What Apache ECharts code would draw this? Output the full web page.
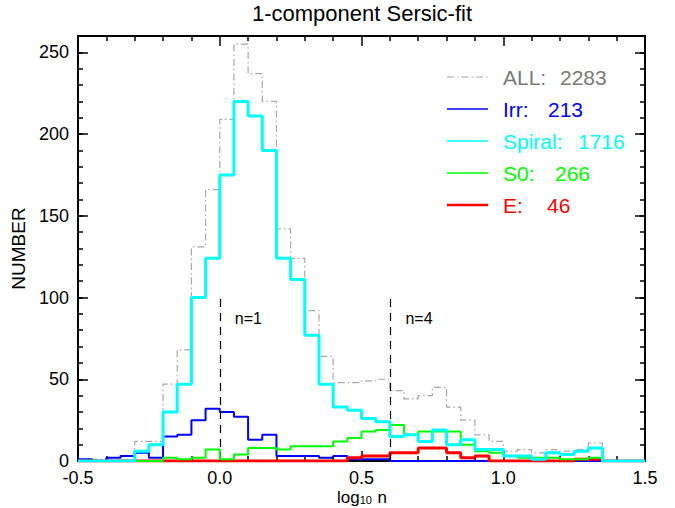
<!DOCTYPE html>
<html>
<head>
<meta charset="utf-8">
<script src="https://cdn.jsdelivr.net/npm/echarts@6/dist/echarts.min.js"></script>
<style>
  html, body { margin: 0; padding: 0; background: #fff; }
  #chart { width: 675px; height: 508px; }
</style>
</head>
<body>
<div id="chart"></div>
<script>
// Histogram bins of log10(n): 40 bins of width 0.05 starting at -0.5
const binStart = -0.5;
const binWidth = 0.05;

// Counts per bin for each morphological class
const allCounts    = [0,1,2,3,12,12,47,68,131,166, 209,255,237,220,142,124,92,64,48,48, 49,50,43,38,40,45,33,25,16,12, 6,7,5,7,6,7,11,0,0,0];
const irrCounts    = [1,0,2,3,5,2,15,16,25,32, 30,27,13,16,3,3,3,2,3,1, 1,1,0,0,0,0,0,0,0,0, 0,0,0,0,0,0,0,0,0,0];
const spiralCounts = [0,0,0,0,6,10,30,47,100,124, 175,220,211,190,124,111,77,47,33,31, 26,24,15,16,12,19,10,13,7,7, 3,3,1,5,4,6,8,0,0,0];
const s0Counts     = [0,0,0,0,0,0,2,1,2,7, 1,4,8,8,7,9,9,9,12,14, 18,19,22,16,18,18,18,10,6,5, 3,2,2,2,1,1,2,0,0,0];
const eCounts      = [0,0,0,0,0,0,0,0,0,0, 0,0,0,0,0,0,0,0,0,2, 3,3,5,5,8,8,5,2,3,0, 0,0,0,0,0,1,1,0,0,0];

// Legend names and class totals
const classNames  = ['ALL:', 'Irr:', 'Spiral:', 'S0:', 'E:'];
const classTotals = ['2283', '213', '1716', '266', '46'];

// Reference Sersic indices (log10 n) marked with dashed lines
const refLabels = ['n=1', 'n=4'];
const refX = [0.0, 0.602];
const refTop = 100;

// Axis ticks
const xTicks = { min: -0.5, max: 1.5, major: 0.5 };
const yTicks = { min: 0, max: 260, major: 50, minor: 10 };

const FONT = 'Liberation Sans, Arial, Helvetica, sans-serif';

function toSteps(counts) {
  const pts = counts.map((c, i) => [+(binStart + i * binWidth).toFixed(3), c]);
  pts.push([+(binStart + counts.length * binWidth).toFixed(3), counts[counts.length - 1]]);
  return pts;
}

const chart = echarts.init(document.getElementById('chart'), null, { renderer: 'svg' });

const axisLine = { show: true, onZero: false, lineStyle: { color: '#000', width: 2 } };

function xAxisDef(pos, labels) {
  return {
    type: 'value', position: pos, min: xTicks.min, max: xTicks.max, interval: xTicks.major,
    axisLine: axisLine,
    axisTick: { show: true, inside: true, length: 10, lineStyle: { color: '#000', width: 1.5 } },
    minorTick: { show: true, splitNumber: 5, length: 5, lineStyle: { color: '#000', width: 1.5 } },
    splitLine: { show: false },
    axisLabel: { show: labels, fontSize: 18, fontFamily: FONT, color: '#000', margin: 8,
                 formatter: v => v.toFixed(1) }
  };
}

function yAxisDef(pos, step, tickLen, labels, name) {
  return {
    type: 'value', position: pos, min: yTicks.min, max: yTicks.max, interval: step,
    axisLine: axisLine,
    axisTick: { show: true, inside: true, length: tickLen, lineStyle: { color: '#000', width: 1.5 } },
    splitLine: { show: false },
    axisLabel: { show: labels, showMaxLabel: false, fontSize: 18, fontFamily: FONT, color: '#000', margin: 9 },
    name: name || '',
    nameLocation: 'middle', nameGap: 42, nameRotate: 90,
    nameTextStyle: { fontSize: 19, fontFamily: FONT, color: '#000' }
  };
}

const seriesDefs = [
  { name: 'ALL',    data: allCounts,    color: '#a8a8a8', width: 1.2, type: [7, 3, 1.5, 3] },
  { name: 'Irr',    data: irrCounts,    color: '#0000ff', width: 2,   type: 'solid' },
  { name: 'E',      data: eCounts,      color: '#ff0000', width: 3,   type: 'solid' },
  { name: 'S0',     data: s0Counts,     color: '#00ff00', width: 2,   type: 'solid' },
  { name: 'Spiral', data: spiralCounts, color: '#00ffff', width: 3,   type: 'solid' }
];

const series = seriesDefs.map((s, i) => {
  const out = {
    name: s.name, type: 'line', step: 'end', showSymbol: false, symbol: 'none',
    xAxisIndex: 0, yAxisIndex: 0,
    data: toSteps(s.data),
    lineStyle: { color: s.color, width: s.width, type: s.type },
    itemStyle: { color: s.color },
    z: 2 + i
  };
  if (i === 0) {
    out.markLine = {
      silent: true, symbol: 'none', animation: false,
      label: { show: false },
      lineStyle: { color: '#000', width: 1.2, type: [8, 6] },
      data: refX.map(x => [{ coord: [x, 0] }, { coord: [x, refTop] }])
    };
  }
  return out;
});

const legendColors = ['#a8a8a8', '#0000ff', '#00ffff', '#00ff00', '#ff0000'];
const legendText   = ['#7a7a7a', '#0000ff', '#00ffff', '#00ff00', '#ff0000'];
const legendDash   = [[7, 3, 1.5, 3], null, null, null, null];
const legendWidth  = [1.2, 1.5, 1.5, 1.5, 2.5];
const legendNumX   = [560, 548, 578, 555, 547];

const graphic = [
  {
    type: 'text', x: 362, y: 13,
    style: { text: '1-component Sersic-fit', fill: '#000', font: '22px ' + FONT,
             textAlign: 'center', align: 'center', textVerticalAlign: 'middle', verticalAlign: 'middle' }
  },
  {
    // x-axis title with a subscript base
    type: 'text', x: 362, y: 497,
    style: {
      text: '{a|log}{b|10}{a| n}', align: 'center', verticalAlign: 'middle',
      rich: {
        a: { fontSize: 17, fontFamily: FONT, fill: '#000', color: '#000', lineHeight: 17, verticalAlign: 'middle' },
        b: { fontSize: 11, fontFamily: FONT, fill: '#000', color: '#000', verticalAlign: 'bottom', padding: [5, 1, 0, 0] }
      }
    }
  }
];
classNames.forEach((n, i) => {
  const y = 77 + i * 32;
  graphic.push({
    type: 'line', shape: { x1: 447, y1: y, x2: 488, y2: y },
    style: { stroke: legendColors[i], lineWidth: legendWidth[i], lineDash: legendDash[i] }
  });
  graphic.push({
    type: 'text', x: 503, y: y,
    style: { text: n, fill: legendText[i], font: '21px ' + FONT, textVerticalAlign: 'middle', verticalAlign: 'middle' }
  });
  graphic.push({
    type: 'text', x: legendNumX[i], y: y,
    style: { text: classTotals[i], fill: legendText[i], font: '21px ' + FONT, textVerticalAlign: 'middle', verticalAlign: 'middle' }
  });
});

chart.setOption({
  animation: false,
  backgroundColor: '#fff',
  grid: { left: 78, right: 30, top: 36, bottom: 47, containLabel: false, outerBoundsMode: 'none' },
  xAxis: [xAxisDef('bottom', true), xAxisDef('top', false)],
  yAxis: [
    yAxisDef('left', yTicks.major, 10, true, 'NUMBER'),
    yAxisDef('left', yTicks.minor, 5, false),
    yAxisDef('right', yTicks.major, 10, false),
    yAxisDef('right', yTicks.minor, 5, false)
  ],
  series: series,
  graphic: graphic
});

// Labels beside the reference lines, placed relative to the line tops
refX.forEach((x, i) => {
  const p = chart.convertToPixel({ xAxisIndex: 0, yAxisIndex: 0 }, [x, refTop]);
  graphic.push({
    type: 'text', x: p[0] + 15, y: p[1] + 21,
    style: { text: refLabels[i], fill: '#000', font: '16px ' + FONT, textVerticalAlign: 'middle', verticalAlign: 'middle' }
  });
});
chart.setOption({ graphic: graphic });
</script>
</body>
</html>
